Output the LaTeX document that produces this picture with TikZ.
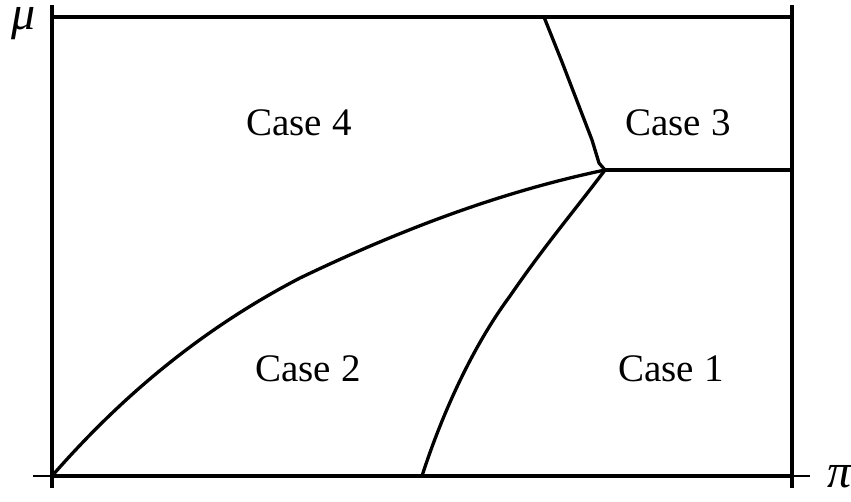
\documentclass[tikz,border=0pt]{standalone}
\usepackage{fontspec}
\setmainfont{Liberation Serif}
\begin{document}
\begin{tikzpicture}[x=1pt,y=-1pt,
  thick line/.style={line width=3.3pt,line cap=butt,line join=round},
  thin line/.style={line width=1.2pt},
  label text/.style={font=\fontsize{39}{44}\selectfont,anchor=base,inner sep=0pt},
  axis text/.style={font=\fontsize{48}{50}\selectfont\itshape,anchor=base,inner sep=0pt,text height=0.45em,text depth=0.2em}]
\useasboundingbox (0,0) rectangle (851,501);
% frame
\coordinate (TL) at (52,17);
\coordinate (TR) at (792,17);
\coordinate (BL) at (52,476);
\coordinate (BR) at (792,476);
\draw[thick line] (52,5) -- (52,488);
\draw[thick line] (792,5) -- (792,488);
\draw[thick line] (TL) -- (TR);
\draw[thick line] (BL) -- (BR);
\draw[thin line] (33,476) -- (BL);
\draw[thin line] (BR) -- (810,476);
% vertex
\coordinate (V) at (605,170);
\coordinate (R) at (792,170);
\coordinate (T) at (544,17);
\coordinate (B) at (422,476);
\draw[thick line] (V) -- (R);
\draw[thick line] (T) -- (562,62) -- (592,140) -- (599,163) -- (V);
\draw[thick line] (BL) .. controls (120,398) and (200,330) .. (300,278) .. controls (400,230) and (500,192) .. (V);
\draw[thick line] (B) .. controls (440,420) and (470,350) .. (510,296) .. controls (545,245) and (575,210) .. (V);
% labels
\node[label text] (c4) at (299,135) {Case 4};
\node[label text] (c3) at (678,135) {Case 3};
\node[label text] (c2) at (308,381) {Case 2};
\node[label text] (c1) at (671,381) {Case 1};
\node[axis text] (mu) at (24,29) {μ};
\node[axis text] (pi) at (840,487) {π};
\end{tikzpicture}
\end{document}
